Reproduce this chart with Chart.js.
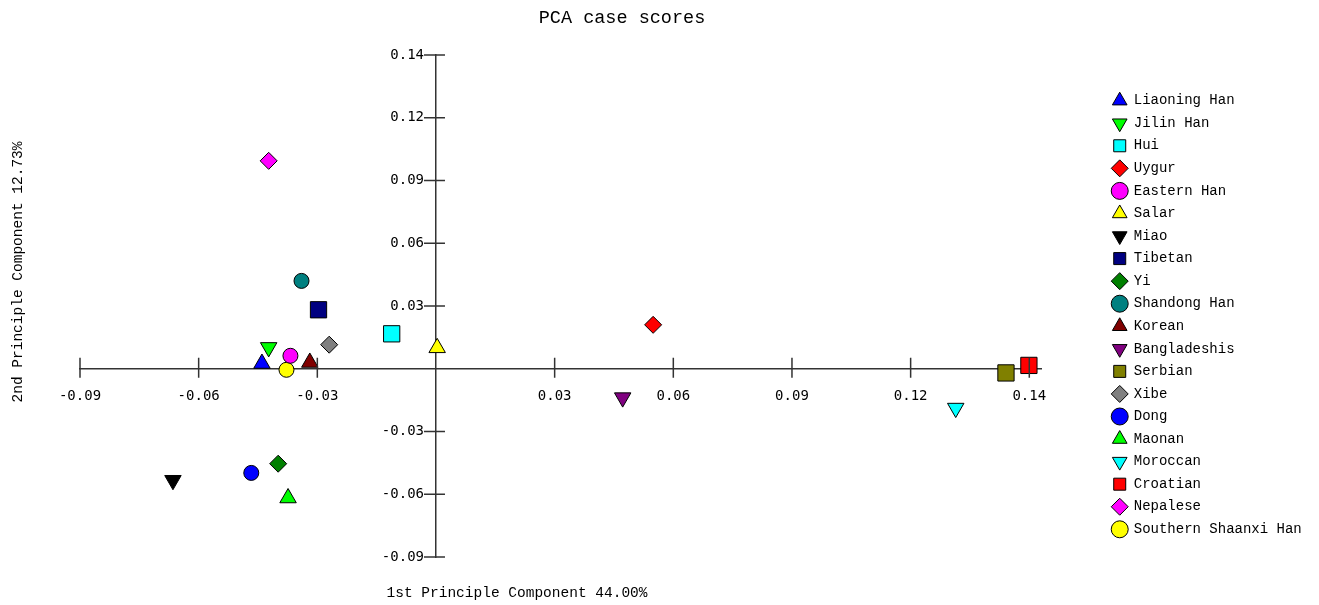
<!DOCTYPE html>
<html><head><meta charset="utf-8">
<script src="https://cdn.jsdelivr.net/npm/chart.js@4.4.1/dist/chart.umd.min.js"></script>
<style>html,body{margin:0;padding:0;background:#fff;overflow:hidden;}</style>
</head><body>
<canvas id="c" width="1319" height="605" style="display:block;width:1319px;height:605px"></canvas>
<script>
// ---- data ----
const categories = ['Liaoning Han','Jilin Han','Hui','Uygur','Eastern Han','Salar','Miao','Tibetan','Yi','Shandong Han','Korean','Bangladeshis','Serbian','Xibe','Dong','Maonan','Moroccan','Croatian','Nepalese','Southern Shaanxi Han'];
const pc1 = [-0.0440,-0.0423,-0.0112,0.0549,-0.0368,0.0003,-0.0665,-0.0297,-0.0399,-0.0340,-0.0319,0.0472,0.1441,-0.0270,-0.0467,-0.0374,0.1314,0.1499,-0.0423,-0.0378];
const pc2 = [0.0025,0.0102,0.0167,0.0210,0.0062,0.0100,-0.0533,0.0282,-0.0454,0.0420,0.0030,-0.0138,-0.0020,0.0115,-0.0498,-0.0618,-0.0188,0.0016,0.0994,-0.0005];
const xTickValues = [-0.09,-0.06,-0.03,0.03,0.06,0.09,0.12,0.15];
const xTickLabels = ['-0.09','-0.06','-0.03','0.03','0.06','0.09','0.12','0.14'];
const yTickValues = [-0.09,-0.06,-0.03,0.03,0.06,0.09,0.12,0.15];
const yTickLabels = ['-0.09','-0.06','-0.03','0.03','0.06','0.09','0.12','0.14'];
const chartTitle = 'PCA case scores';
const xTitle = '1st Principle Component 44.00%';
const yTitle = '2nd Principle Component 12.73%';

// ---- styles ----
const markerColors = ['#0000FF','#00FF00','#00FFFF','#FF0000','#FF00FF','#FFFF00','#000000','#000080','#008000','#008080','#800000','#800080','#808000','#808080','#0000FF','#00FF00','#00FFFF','#FF0000','#FF00FF','#FFFF00'];
const markerShapes = ['up','down','square','diamond','circle','up','down','square','diamond','circle','up','down','square','diamond','circle','up','down','square','diamond','circle'];
const shapeStyle = {
  up:{pointStyle:'triangle',rotation:0,radius:9.5},
  down:{pointStyle:'triangle',rotation:180,radius:9.5},
  square:{pointStyle:'rect',rotation:0,radius:11.5},
  diamond:{pointStyle:'rectRot',rotation:0,radius:8.5},
  circle:{pointStyle:'circle',rotation:0,radius:7.5}
};
const axisColor = '#333333';
const tickFontCss = '14px "DejaVu Sans Mono"';

const datasets = categories.map((name,i)=>{
  const s = shapeStyle[markerShapes[i]];
  return {
    label: name,
    data: [{x: pc1[i], y: pc2[i]}],
    xAxisID: 'x', yAxisID: 'y',
    pointStyle: s.pointStyle,
    pointRotation: s.rotation,
    pointRadius: s.radius,
    pointHoverRadius: s.radius,
    pointBackgroundColor: markerColors[i],
    backgroundColor: markerColors[i],
    pointBorderColor: '#000',
    borderColor: '#000',
    pointBorderWidth: 1,
    borderWidth: 1
  };
});

const textPlugin = {
  id: 'textPlugin',
  afterDraw(chart){
    const ctx = chart.ctx;
    const xs = chart.scales.x, ys = chart.scales.y;
    const x0 = xs.getPixelForValue(0), y0 = ys.getPixelForValue(0);
    ctx.save();
    // tick marks crossing the axes
    ctx.strokeStyle = axisColor; ctx.lineWidth = 1.5;
    ctx.beginPath();
    xs.ticks.forEach(t=>{ const p = xs.getPixelForValue(t.value); ctx.moveTo(p, y0-11); ctx.lineTo(p, y0+9); });
    ys.ticks.forEach(t=>{ const p = ys.getPixelForValue(t.value); ctx.moveTo(x0-12, p); ctx.lineTo(x0+9, p); });
    ctx.stroke();
    // y tick labels, to the left of the vertical axis
    ctx.fillStyle = '#000';
    ctx.font = tickFontCss;
    ctx.textAlign = 'right'; ctx.textBaseline = 'middle';
    ys.ticks.forEach((t,i)=>{ ctx.fillText(yTickLabels[i], x0-12, ys.getPixelForValue(t.value)); });
    // titles
    ctx.textAlign = 'center'; ctx.textBaseline = 'middle';
    ctx.font = '18.5px "Liberation Mono"';
    ctx.fillText(chartTitle, 622, 18);
    ctx.font = '14.5px "Liberation Mono"';
    ctx.fillText(xTitle, 517, 593);
    ctx.translate(18, 272); ctx.rotate(-Math.PI/2);
    ctx.fillText(yTitle, 0, 0);
    ctx.restore();
  }
};

new Chart(document.getElementById('c'), {
  type: 'scatter',
  data: { datasets },
  plugins: [textPlugin],
  options: {
    responsive: false,
    animation: false,
    events: [],
    layout: { padding: {left:80, top:55, bottom:48, right:10} },
    scales: {
      x: {
        type:'linear', min:-0.09, max:0.153, position:{y:0}, z:1,
        grid:{display:false},
        border:{display:true, color:axisColor, width:1.5},
        afterBuildTicks: s => { s.ticks = xTickValues.map(v=>({value:v})); },
        ticks:{autoSkip:false, maxRotation:0, padding:11.6, color:'#000',
          font:{family:'"DejaVu Sans Mono"', size:14},
          callback:(v,i)=>xTickLabels[i]}
      },
      y: {
        type:'linear', min:-0.09, max:0.15, position:{x:0}, z:1,
        grid:{display:false},
        border:{display:true, color:axisColor, width:1.5},
        afterBuildTicks: s => { s.ticks = yTickValues.map(v=>({value:v})); },
        ticks:{display:false, autoSkip:false}
      },
      pad: {
        type:'linear', position:'right', display:true,
        grid:{display:false}, border:{display:false}, ticks:{display:false},
        afterFit: s => { s.width = 63; }
      }
    },
    plugins: {
      tooltip:{enabled:false},
      legend: {
        position:'right', align:'start', fullSize:false,
        title:{display:true, text:' ', font:{size:10, lineHeight:3.01}, padding:0},
        labels:{usePointStyle:true, boxWidth:14, boxHeight:12, padding:8.56, color:'#000',
          font:{family:'"Liberation Mono"', size:14}}
      }
    }
  }
});
</script>
</body></html>
